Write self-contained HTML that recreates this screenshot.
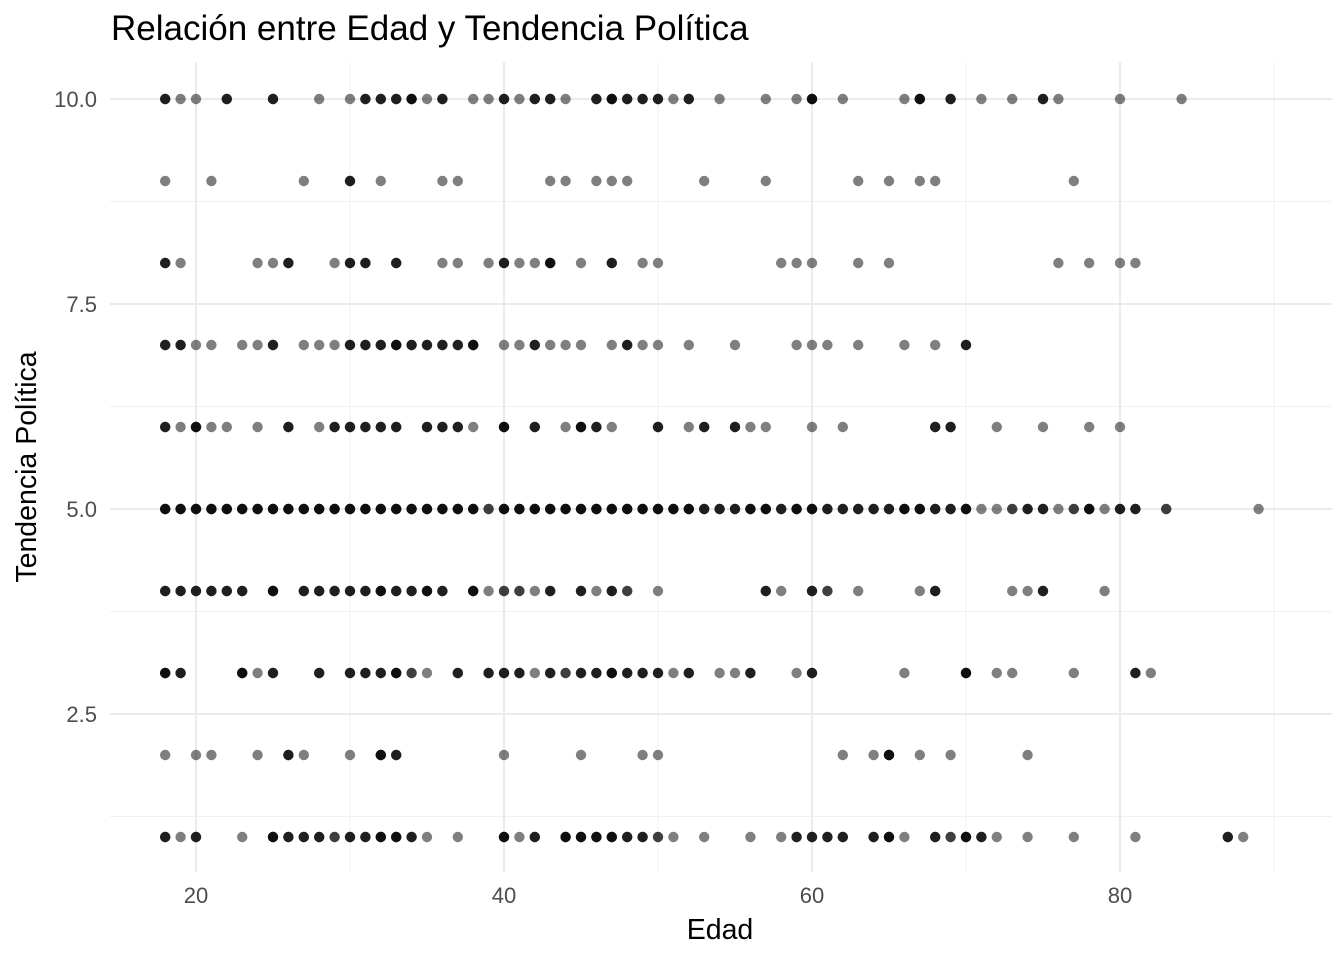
<!DOCTYPE html>
<html><head><meta charset="utf-8"><style>
html,body{margin:0;padding:0;background:#fff}
svg{display:block;font-family:"Liberation Sans",sans-serif}
</style></head><body>
<svg id="chart" width="1344" height="960">
<text x="111" y="40" style="font-size:35px" fill="#000">Relación entre Edad y Tendencia Política</text>
<text x="720" y="939" style="font-size:28.5px" text-anchor="middle" fill="#000">Edad</text>
<text transform="translate(36,467) rotate(-90)" style="font-size:28.5px" text-anchor="middle" fill="#000">Tendencia Política</text>
<g id="grid"></g>
<g id="points"></g>
<g id="ticks"></g>
</svg>
<script>
const xTicks = [20, 40, 60, 80];
const xMinor = [30, 50, 70, 90];
const yTicks = [2.5, 5.0, 7.5, 10.0];
const yMinor = [1.25, 3.75, 6.25, 8.75];
const yLevels = [10, 9, 8, 7, 6, 5, 4, 3, 2, 1];
// each row: [age, overlap count]
const row10 = [[18,3],[19,1],[20,1],[22,3],[25,3],[28,1],[30,1],[31,3],[32,3],[33,3],[34,4],[35,1],[36,3],[38,1],[39,1],[40,3],[41,1],[42,3],[43,3],[44,1],[46,3],[47,4],[48,3],[49,3],[50,3],[51,1],[52,3],[54,1],[57,1],[59,1],[60,4],[62,1],[66,1],[67,4],[69,3],[71,1],[73,1],[75,3],[76,1],[80,1],[84,1]];
const row9 = [[18,1],[21,1],[27,1],[30,3],[32,1],[36,1],[37,1],[43,1],[44,1],[46,1],[47,1],[48,1],[53,1],[57,1],[63,1],[65,1],[67,1],[68,1],[77,1]];
const row8 = [[18,3],[19,1],[24,1],[25,1],[26,3],[29,1],[30,3],[31,3],[33,3],[36,1],[37,1],[39,1],[40,3],[41,1],[42,1],[43,4],[45,1],[47,3],[49,1],[50,1],[58,1],[59,1],[60,1],[63,1],[65,1],[76,1],[78,1],[80,1],[81,1]];
const row7 = [[18,3],[19,3],[20,1],[21,1],[23,1],[24,1],[25,3],[27,1],[28,1],[29,1],[30,3],[31,3],[32,3],[33,4],[34,3],[35,3],[36,3],[37,3],[38,4],[40,1],[41,1],[42,3],[43,1],[44,1],[45,1],[47,1],[48,3],[49,1],[50,1],[52,1],[55,1],[59,1],[60,1],[61,1],[63,1],[66,1],[68,1],[70,3]];
const row6 = [[18,3],[19,1],[20,4],[21,1],[22,1],[24,1],[26,3],[28,1],[29,3],[30,3],[31,3],[32,3],[33,3],[35,3],[36,3],[37,3],[38,1],[40,4],[42,3],[44,1],[45,4],[46,3],[47,1],[50,3],[52,1],[53,3],[55,3],[56,1],[57,1],[60,1],[62,1],[68,3],[69,3],[72,1],[75,1],[78,1],[80,1]];
const row5 = [[18,4],[19,4],[20,4],[21,4],[22,4],[23,4],[24,4],[25,4],[26,4],[27,4],[28,4],[29,4],[30,4],[31,4],[32,4],[33,4],[34,4],[35,4],[36,4],[37,4],[38,4],[39,2],[40,4],[41,4],[42,4],[43,4],[44,4],[45,4],[46,4],[47,4],[48,4],[49,4],[50,4],[51,4],[52,4],[53,3],[54,3],[55,3],[56,4],[57,4],[58,3],[59,4],[60,4],[61,3],[62,3],[63,3],[64,3],[65,3],[66,4],[67,4],[68,3],[69,3],[70,4],[71,1],[72,1],[73,2],[74,3],[75,3],[76,1],[77,2],[78,4],[79,1],[80,3],[81,3],[83,2],[89,1]];
const row4 = [[18,3],[19,3],[20,3],[21,3],[22,3],[23,3],[25,4],[27,3],[28,3],[29,3],[30,3],[31,3],[32,4],[33,3],[34,3],[35,4],[36,3],[38,4],[39,1],[40,2],[41,2],[42,1],[43,3],[45,3],[46,1],[47,3],[48,2],[50,1],[57,3],[58,1],[60,3],[61,2],[63,1],[67,1],[68,3],[73,1],[74,1],[75,3],[79,1]];
const row3 = [[18,4],[19,3],[23,4],[24,1],[25,3],[28,3],[30,3],[31,3],[32,3],[33,4],[34,2],[35,1],[37,3],[39,3],[40,3],[41,3],[42,1],[43,3],[44,2],[45,3],[46,3],[47,4],[48,3],[49,3],[50,3],[51,1],[52,3],[54,1],[55,1],[56,3],[59,1],[60,3],[66,1],[70,4],[72,1],[73,1],[77,1],[81,3],[82,1]];
const row2 = [[18,1],[20,1],[21,1],[24,1],[26,3],[27,1],[30,1],[32,4],[33,3],[40,1],[45,1],[49,1],[50,1],[62,1],[64,1],[65,4],[67,1],[69,1],[74,1]];
const row1 = [[18,3],[19,1],[20,3],[23,1],[25,4],[26,3],[27,3],[28,3],[29,2],[30,3],[31,3],[32,4],[33,4],[34,3],[35,1],[37,1],[40,4],[41,1],[42,3],[44,4],[45,4],[46,4],[47,4],[48,3],[49,3],[50,2],[51,1],[53,1],[56,1],[58,1],[59,3],[60,3],[61,3],[62,3],[64,3],[65,4],[66,1],[68,3],[69,2],[70,4],[71,3],[72,1],[74,1],[77,1],[81,1],[87,3],[88,1]];
const rows = [row10,row9,row8,row7,row6,row5,row4,row3,row2,row1];

const NS = "http://www.w3.org/2000/svg";
const X = a => 196 + (a - 20) * 15.4;
const Y = v => 509 - (v - 5) * 82;
const PL = 110, PR = 1332, PT = 62, PB = 872;
const grid = document.getElementById('grid');
function line(x1,y1,x2,y2,w,c,name){
  const l = document.createElementNS(NS,'line');
  l.setAttribute('x1',x1);l.setAttribute('y1',y1);l.setAttribute('x2',x2);l.setAttribute('y2',y2);
  l.setAttribute('stroke',c);l.setAttribute('stroke-width',w);
  
  
  grid.appendChild(l);
}
xMinor.forEach(v=>line(X(v),PT,X(v),PB,1,'#f0f0f0','x-minor-gridline'));
yMinor.forEach(v=>line(PL,Y(v),PR,Y(v),1,'#f0f0f0','y-minor-gridline'));
xTicks.forEach(v=>line(X(v),PT,X(v),PB,2,'#ebebeb','x-major-gridline'));
yTicks.forEach(v=>line(PL,Y(v),PR,Y(v),2,'#ebebeb','y-major-gridline'));

const ticks = document.getElementById('ticks');
xTicks.forEach(v=>{
  const t = document.createElementNS(NS,'text');
  t.setAttribute('x',X(v));t.setAttribute('y',903);t.setAttribute('text-anchor','middle');
  t.setAttribute('style','font-size:22px');t.setAttribute('fill','#4d4d4d');t.textContent=v;
  
  
  ticks.appendChild(t);
});
yTicks.forEach(v=>{
  const t = document.createElementNS(NS,'text');
  t.setAttribute('x',97);t.setAttribute('y',Y(v)+8);t.setAttribute('text-anchor','end');
  t.setAttribute('style','font-size:22px');t.setAttribute('fill','#4d4d4d');t.textContent=v.toFixed(1);
  
  
  ticks.appendChild(t);
});

const pts = document.getElementById('points');
rows.forEach((row,i)=>{
  row.forEach(([age,n])=>{
    for(let k=0;k<n;k++){
      const c = document.createElementNS(NS,'circle');
      c.setAttribute('cx',X(age));c.setAttribute('cy',Y(yLevels[i]));c.setAttribute('r',5.2);
      c.setAttribute('fill','#000');c.setAttribute('fill-opacity','0.5');
      
      
      pts.appendChild(c);
    }
  });
});
</script>
</body></html>
